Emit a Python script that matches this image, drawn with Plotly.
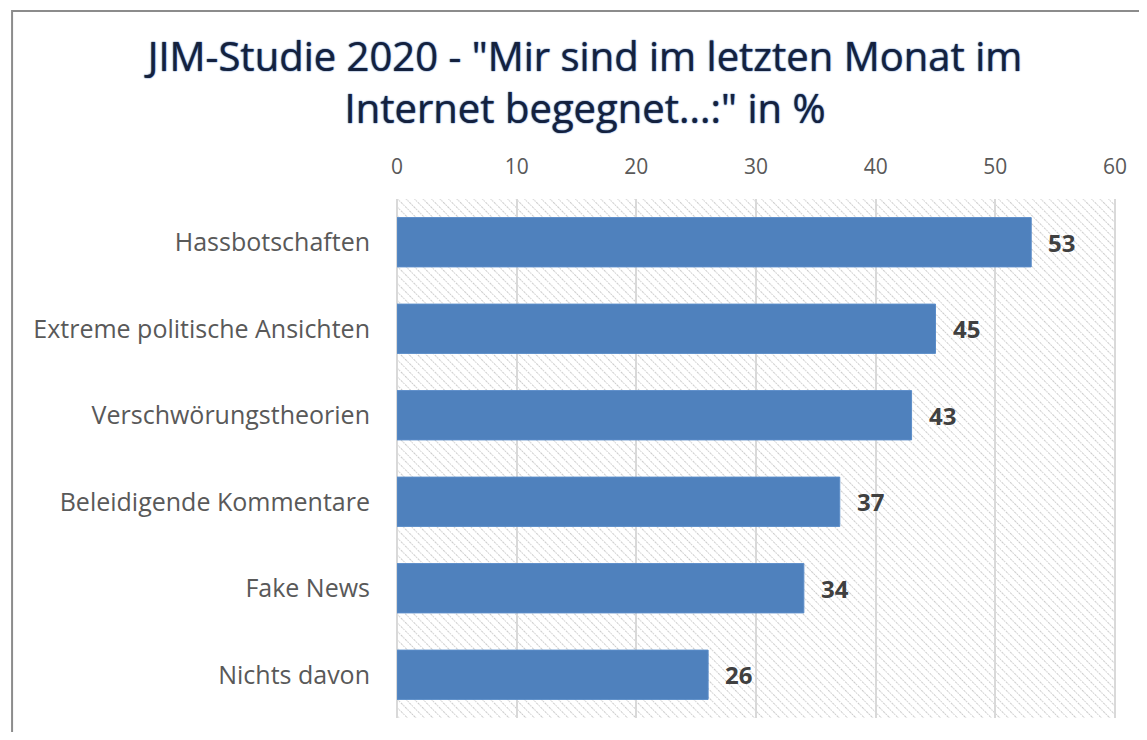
import base64
import plotly.graph_objects as go

categories = ["Hassbotschaften", "Extreme politische Ansichten", "Verschwörungstheorien",
              "Beleidigende Kommentare", "Fake News", "Nichts davon"]
values = [53, 45, 43, 37, 34, 26]
tick_values = [0, 10, 20, 30, 40, 50, 60]
title_text = 'JIM-Studie 2020 - "Mir sind im letzten Monat im<br>Internet begegnet...:" in %'

OFF = 8  # page body margin
W, H = 1147 - 2 * OFF, 740 - 2 * OFF
ML, MT = 397 - OFF, 199 - OFF
MR = W - (1117 - OFF)
MB = H - (718 - OFF)
PW, PH = W - ML - MR, H - MT - MB

# diagonal hatch background pattern (style only)
svg = f'''<svg xmlns="http://www.w3.org/2000/svg" width="{PW}" height="{PH}">
<defs><pattern id="p" width="6" height="6" patternUnits="userSpaceOnUse" patternTransform="rotate(-45)">
<line x1="0" y1="0" x2="0" y2="6" stroke="#cccccc" stroke-width="2" stroke-dasharray="1.5,1"/></pattern></defs>
<rect width="{PW}" height="{PH}" fill="url(#p)"/></svg>'''
src = "data:image/svg+xml;base64," + base64.b64encode(svg.encode()).decode()

fig = go.Figure()
fig.add_trace(go.Bar(
    x=values, y=categories, orientation="h", width=0.57,
    marker=dict(color="#4F81BD", line=dict(color="#5B8DC9", width=1)),
    hoverinfo="x+y", cliponaxis=False,
))

for v, c in zip(values, categories):
    fig.add_annotation(x=v, y=c, xref="x", yref="y", text=f"<b>{v}</b>", showarrow=False,
                       xanchor="left", xshift=15,
                       font=dict(family="Open Sans", size=24, color="#404040"))

outline = "#4a72b0"
fig.update_layout(
    width=W, height=H,
    margin=dict(l=ML, r=MR, t=MT, b=MB),
    paper_bgcolor="white", plot_bgcolor="rgba(0,0,0,0)",
    showlegend=False,
    title=dict(text=title_text, x=(585 - OFF) / W, xref="container", xanchor="center",
               y=1 - 63 / H, yref="container", yanchor="top",
               font=dict(family="Open Sans", size=40, color="#14213d",
                         shadow=f"0 0 1.5px {outline}, 0 0 1px {outline}")),
    xaxis=dict(range=[0, 60], side="top", tickvals=tick_values, showgrid=True,
               gridcolor="#d9d9d9", gridwidth=2, zeroline=True, zerolinecolor="#d9d9d9",
               zerolinewidth=2, showline=False, ticks="", ticklabelstandoff=20,
               tickfont=dict(family="Open Sans", size=21, color="#595959")),
    yaxis=dict(autorange="reversed", showgrid=False, ticks="", showline=False,
               ticklabelstandoff=26,
               tickfont=dict(family="Open Sans", size=25, color="#595959")),
    images=[dict(source=src, xref="paper", yref="paper", x=0, y=1, sizex=1, sizey=1,
                 xanchor="left", yanchor="top", sizing="stretch", layer="below")],
    shapes=[dict(type="rect", xref="paper", yref="paper",
                 x0=(11 - OFF - ML) / PW, x1=1.5, y0=-0.5, y1=(H - MB - (11 - OFF)) / PH,
                 line=dict(color="#8c8c8c", width=2), fillcolor="rgba(0,0,0,0)", layer="below"),
            dict(type="line", xref="paper", yref="paper", x0=1, x1=1, y0=0, y1=1,
                 line=dict(color="#d9d9d9", width=2))],
)

fig.write_html("out.html")
